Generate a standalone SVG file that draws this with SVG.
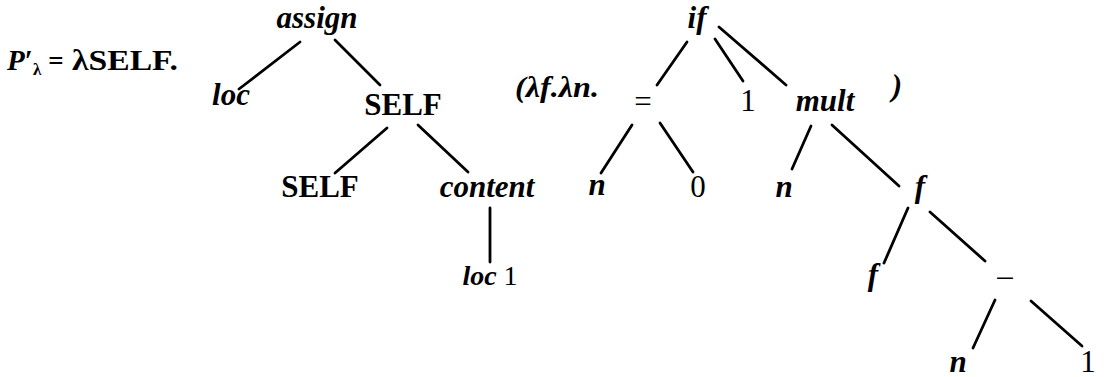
<svg xmlns="http://www.w3.org/2000/svg" width="1105" height="377" viewBox="0 0 1105 377">
<style>
text{font-family:"Liberation Serif","Times New Roman",serif;fill:#000;text-anchor:middle;font-size:31px}
.v{font-style:italic;font-weight:bold}
.b{font-weight:bold}
.s{text-anchor:start}
#edges line{stroke:#000;stroke-width:2.8;stroke-linecap:round}
</style>
<rect width="1105" height="377" fill="#fff"/>
<g id="edges">
<line x1="300" y1="42" x2="239" y2="89"/>
<line x1="335" y1="40" x2="380" y2="85"/>
<line x1="387" y1="128" x2="335" y2="173"/>
<line x1="418" y1="125" x2="468" y2="172"/>
<line x1="490" y1="208" x2="490" y2="262"/>
<line x1="687" y1="42" x2="657" y2="85"/>
<line x1="715" y1="39" x2="743" y2="81"/>
<line x1="719" y1="27" x2="786" y2="85"/>
<line x1="632" y1="125" x2="601" y2="173"/>
<line x1="660" y1="123" x2="693" y2="172"/>
<line x1="811" y1="126" x2="792" y2="169"/>
<line x1="832" y1="125" x2="899" y2="186"/>
<line x1="908" y1="208" x2="884" y2="263"/>
<line x1="930" y1="212" x2="985" y2="261"/>
<line x1="995" y1="300" x2="973" y2="348"/>
<line x1="1031" y1="301" x2="1082" y2="346"/>
</g>
<g id="label">
<text x="7" y="70" class="b s" style="font-size:29px"><tspan font-style="italic">P</tspan><tspan>′</tspan><tspan font-size="17" dy="5">λ</tspan></text>
<text x="56" y="70" class="b" style="font-size:27px">=</text>
<text x="72" y="70" class="b s" style="font-size:29px" textLength="106" lengthAdjust="spacingAndGlyphs">λSELF.</text>
</g>
<g id="n-assign"><text x="317" y="28" class="v">assign</text></g>
<g id="n-loc"><text x="231" y="105" class="v">loc</text></g>
<g id="n-self1"><text x="403" y="115" class="b">SELF</text></g>
<g id="n-self2"><text x="320" y="197" class="b">SELF</text></g>
<g id="n-content"><text x="487" y="197" class="v">content</text></g>
<g id="n-loc1"><text x="490" y="285" style="font-size:28px"><tspan class="v">loc</tspan><tspan> 1</tspan></text></g>
<g id="lam"><text x="515" y="97" class="v s" style="font-size:30px" textLength="84" lengthAdjust="spacingAndGlyphs">(λf.λn.</text></g>
<g id="n-if"><text x="697" y="28" class="v">if</text></g>
<g id="n-eq"><text x="643" y="112">=</text></g>
<g id="n-one"><text x="748" y="111">1</text></g>
<g id="n-mult"><text x="825" y="111" class="v">mult</text></g>
<g id="rparen"><text x="897" y="96" class="v">)</text></g>
<g id="n-n1"><text x="597" y="195" class="v">n</text></g>
<g id="n-zero"><text x="698" y="197">0</text></g>
<g id="n-n2"><text x="784" y="197" class="v">n</text></g>
<g id="n-f1"><text x="920" y="197" class="v">f</text></g>
<g id="n-f2"><text x="873" y="285" class="v">f</text></g>
<g id="n-minus"><text x="1005" y="286">–</text></g>
<g id="n-n3"><text x="958" y="372" class="v">n</text></g>
<g id="n-one2"><text x="1088" y="372">1</text></g>
</svg>
